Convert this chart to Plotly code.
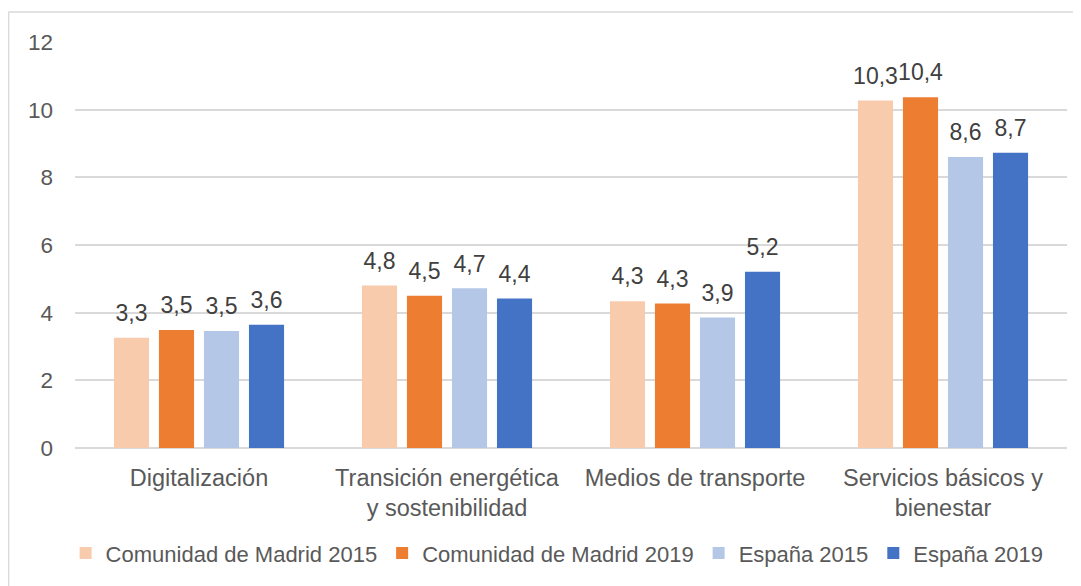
import plotly.graph_objects as go

categories = ["Digitalización", "Transición energética<br>y sostenibilidad",
              "Medios de transporte", "Servicios básicos y<br>bienestar"]
series_names = ["Comunidad de Madrid 2015", "Comunidad de Madrid 2019",
                "España 2015", "España 2019"]
madrid_2015 = [3.26, 4.80, 4.34, 10.27]
madrid_2019 = [3.49, 4.50, 4.27, 10.37]
espana_2015 = [3.46, 4.72, 3.86, 8.60]
espana_2019 = [3.64, 4.42, 5.21, 8.73]
series_values = [madrid_2015, madrid_2019, espana_2015, espana_2019]
colors = ["#F8CBAD", "#ED7D31", "#B4C7E7", "#4472C4"]
y_ticks = [0, 2, 4, 6, 8, 10, 12]

FONT = "Liberation Sans, Arial, sans-serif"
GAP = 0.274

fig = go.Figure()
for k, (name, vals, col) in enumerate(zip(series_names, series_values, colors)):
    fig.add_trace(go.Bar(
        name=name, x=categories, y=vals, offsetgroup=str(k),
        marker=dict(color=col, line=dict(width=0)),
    ))
# value labels, grouped the same way as the bars
for k, (name, vals) in enumerate(zip(series_names, series_values)):
    fig.add_trace(go.Scatter(
        x=categories, y=vals, offsetgroup=str(k), mode="markers+text",
        marker=dict(size=16, opacity=0), showlegend=False, hoverinfo="skip",
        text=[f"{v:.1f}".replace(".", ",") for v in vals],
        textposition="top center", cliponaxis=False,
        textfont=dict(family=FONT, size=23, color="#404040"),
    ))

# the page body has an 8px margin, so the figure is sized to the remaining area
fig.update_layout(
    width=1073, height=578,
    margin=dict(l=67, r=14, t=34, b=138),
    paper_bgcolor="white", plot_bgcolor="white",
    barmode="group", bargap=GAP, bargroupgap=0.22,
    scattermode="group", scattergap=GAP,
    font=dict(family=FONT, size=22, color="#595959"),
    showlegend=True,
    legend=dict(orientation="h", x=0.486, xanchor="center", y=-0.259, yanchor="middle",
                font=dict(size=22, color="#595959"), itemwidth=30,
                traceorder="normal"),
    shapes=[
        dict(type="line", xref="paper", yref="paper", x0=-0.067, x1=1.05, y0=1.074, y1=1.074,
             line=dict(color="#D9D9D9", width=1.5)),
        dict(type="line", xref="paper", yref="paper", x0=-0.067, x1=-0.067, y0=1.074, y1=-0.5,
             line=dict(color="#D9D9D9", width=1.5)),
    ],
)
fig.update_yaxes(range=[0, 12], tickvals=y_ticks, showgrid=True, gridcolor="#D9D9D9",
                 gridwidth=1.5, zeroline=True, zerolinecolor="#D9D9D9", zerolinewidth=1.5,
                 showline=False, ticks="", ticklabelstandoff=21,
                 tickfont=dict(size=22.5, color="#595959"))
fig.update_xaxes(showline=False, ticks="", showgrid=False, ticklabelstandoff=13,
                 tickfont=dict(size=23.5, color="#595959"))

fig.write_html("out.html")
